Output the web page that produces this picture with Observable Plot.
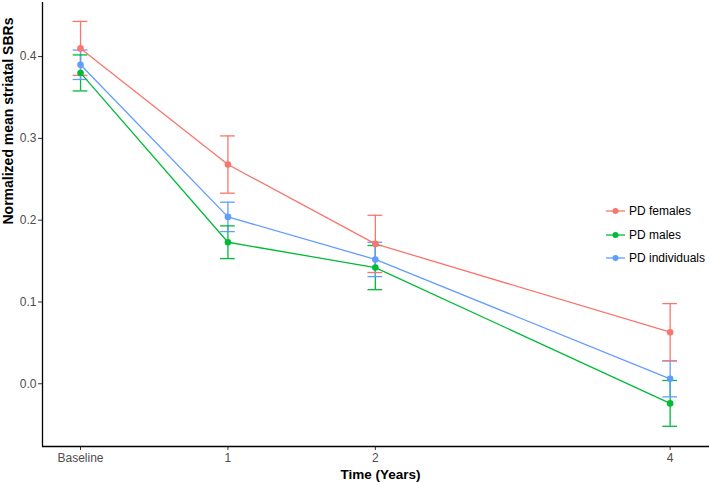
<!DOCTYPE html>
<html>
<head>
<meta charset="utf-8">
<script src="https://cdn.jsdelivr.net/npm/d3@7"></script>
<script src="https://cdn.jsdelivr.net/npm/@observablehq/plot@0.6"></script>
<style>
  html, body { margin: 0; padding: 0; background: #fff; }
  #wrap { position: relative; width: 709px; height: 484px; font-family: "Liberation Sans", Arial, Helvetica, sans-serif; }
  #legend { position: absolute; left: 606px; top: 199px; font-size: 12px; color: #000; }
  .item { display: flex; align-items: center; height: 23.8px; }
  .item svg { margin-right: 4px; }
</style>
</head>
<body>
<div id="wrap"></div>
<script>
// ---- data ----
const timePoints = [0, 1, 2, 4];
const timeLabels = ["Baseline", "1", "2", "4"];
const seriesNames = ["PD females", "PD males", "PD individuals"];
const seriesColors = ["#F8766D", "#00BA38", "#619CFF"];

const femalesMean = [0.410, 0.268, 0.171, 0.063];
const femalesErr  = [0.033, 0.035, 0.035, 0.035];
const malesMean   = [0.380, 0.173, 0.142, -0.024];
const malesErr    = [0.022, 0.020, 0.027, 0.028];
const indivMean   = [0.390, 0.204, 0.152, 0.006];
const indivErr    = [0.018, 0.018, 0.021, 0.022];

const yTicks = [0.0, 0.1, 0.2, 0.3, 0.4];
const xDomain = [-0.258, 4.267];
const yDomain = [-0.0767, 0.4661];
const capHalf = 0.05;

// ---- build table ----
const means = [femalesMean, malesMean, indivMean];
const errs = [femalesErr, malesErr, indivErr];
const rows = [];
seriesNames.forEach((s, i) => {
  timePoints.forEach((t, j) => {
    rows.push({series: s, time: t, mean: means[i][j], lo: means[i][j] - errs[i][j], hi: means[i][j] + errs[i][j]});
  });
});

const color = {domain: seriesNames, range: seriesColors};
const sw = 1.3;

const chart = Plot.plot({
  width: 709,
  height: 484,
  marginTop: 2,
  marginBottom: 38,
  marginLeft: 42,
  marginRight: 0,
  style: {fontFamily: "'Liberation Sans', Arial, Helvetica, sans-serif", background: "#fff"},
  x: {domain: xDomain, ticks: timePoints, tickFormat: (d, i) => timeLabels[timePoints.indexOf(d)], label: null},
  y: {domain: yDomain, ticks: yTicks, tickFormat: d3.format(".1f"), label: null},
  color,
  marks: [
    // error bars
    Plot.ruleX(rows, {x: "time", y1: "lo", y2: "hi", stroke: "series", strokeWidth: sw}),
    Plot.ruleY(rows, {y: "hi", x1: d => d.time - capHalf, x2: d => d.time + capHalf, stroke: "series", strokeWidth: sw}),
    Plot.ruleY(rows, {y: "lo", x1: d => d.time - capHalf, x2: d => d.time + capHalf, stroke: "series", strokeWidth: sw}),
    // lines
    Plot.line(rows, {x: "time", y: "mean", z: "series", stroke: "series", strokeWidth: sw}),
    // points
    Plot.dot(rows, {x: "time", y: "mean", fill: "series", r: 3.3}),
    // axes
    Plot.axisX({ticks: timePoints, tickFormat: d => timeLabels[timePoints.indexOf(d)], tickSize: 4, tickPadding: 3, fontSize: 12, color: "#4D4D4D", stroke: "#333", label: null}),
    Plot.axisY({ticks: yTicks, tickFormat: d3.format(".1f"), tickSize: 4, tickPadding: 2, fontSize: 12, color: "#4D4D4D", stroke: "#333", label: null}),
    Plot.ruleX([xDomain[0]], {stroke: "#000", strokeWidth: 1.3}),
    Plot.ruleY([yDomain[0]], {stroke: "#000", strokeWidth: 1.3}),
    Plot.text(["Time (Years)"], {frameAnchor: "bottom", lineAnchor: "middle", dx: 4.5, dy: 28, fontSize: 13.5, fontWeight: "bold", fill: "#000"}),
    Plot.text(["Normalized mean striatal SBRs"], {frameAnchor: "left", dx: -34, rotate: -90, fontSize: 14, fontWeight: "bold", fill: "#000"})
  ]
});

const wrap = document.getElementById("wrap");
wrap.appendChild(chart);

// legend
const legend = document.createElement("div");
legend.id = "legend";
seriesNames.forEach((s, i) => {
  const item = document.createElement("div");
  item.className = "item";
  const ns = "http://www.w3.org/2000/svg";
  const svg = document.createElementNS(ns, "svg");
  svg.setAttribute("width", 19); svg.setAttribute("height", 10);
  const ln = document.createElementNS(ns, "line");
  ln.setAttribute("x1", 0); ln.setAttribute("x2", 19); ln.setAttribute("y1", 5); ln.setAttribute("y2", 5);
  ln.setAttribute("stroke", seriesColors[i]); ln.setAttribute("stroke-width", 1.3);
  const c = document.createElementNS(ns, "circle");
  c.setAttribute("cx", 9.5); c.setAttribute("cy", 5); c.setAttribute("r", 3); c.setAttribute("fill", seriesColors[i]);
  svg.appendChild(ln); svg.appendChild(c);
  const t = document.createElement("span");
  t.textContent = s;
  item.appendChild(svg); item.appendChild(t);
  legend.appendChild(item);
});
wrap.appendChild(legend);
</script>
</body>
</html>
